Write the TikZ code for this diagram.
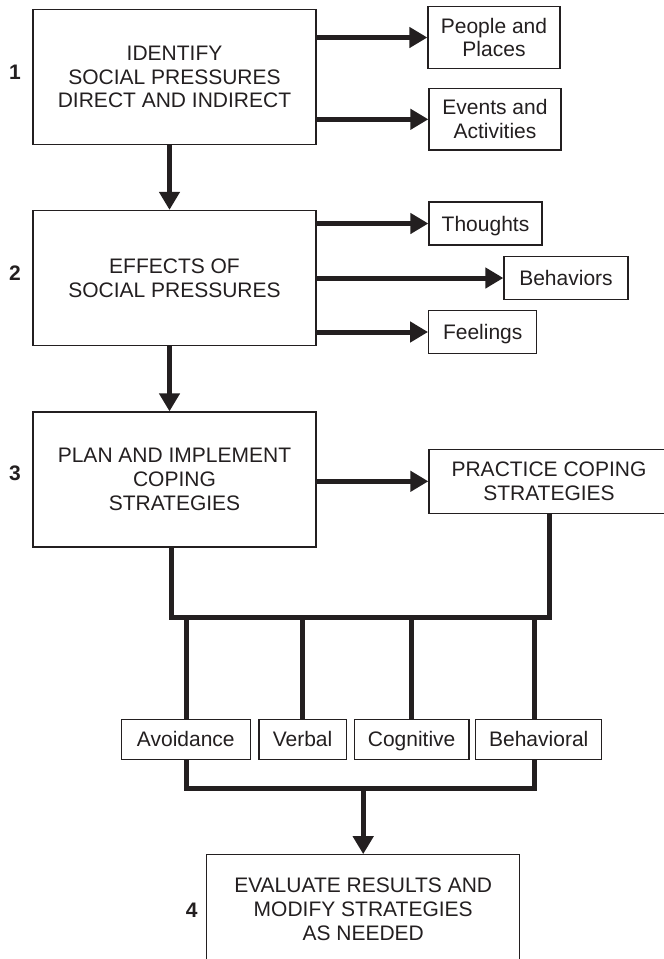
\documentclass[tikz,border=0pt]{standalone}
\usepackage{fontspec}
\setmainfont{Liberation Sans}
\usetikzlibrary{arrows.meta,calc}
\definecolor{ink}{HTML}{231F20}
\begin{document}
\begin{tikzpicture}[x=1pt,y=-1pt,
  box/.style={draw=ink, line width=1.3pt, inner sep=0pt, align=center, text=ink,
    font=\fontsize{21}{23.7}\selectfont},
  onebox/.style={box, text height=15pt, text depth=0pt},
  num/.style={text=ink, inner sep=0pt, font=\fontsize{21}{23.7}\selectfont\bfseries},
  conn/.style={draw=ink, line width=5pt, line join=miter},
  arr/.style={conn, -{Triangle[width=20pt,length=18pt]}}]
\useasboundingbox[fill=white] (0,0) rectangle (664,959);

% main boxes
\node[box, minimum width=283pt, minimum height=135pt] (b1) at (174.5,77) {IDENTIFY\\SOCIAL PRESSURES\\DIRECT AND INDIRECT};
\node[box, minimum width=283pt, minimum height=135pt] (b2) at (174.5,278) {EFFECTS OF\\SOCIAL PRESSURES};
\node[box, minimum width=283pt, minimum height=135pt] (b3) at (174.5,479.5) {PLAN AND IMPLEMENT\\COPING\\STRATEGIES};
\node[box, minimum width=313pt, minimum height=109pt] (b4) at (363.2,909.3) {EVALUATE RESULTS AND\\MODIFY STRATEGIES\\AS NEEDED};

% numbers
\node[num] (n1) at (15,72) {1};
\node[num] (n2) at (15,273.3) {2};
\node[num] (n3) at (15,473.3) {3};
\node[num] (n4) at (191.7,910.7) {4};

% side boxes
\node[box, minimum width=132pt, minimum height=61.6pt] (people) at (494,37.5) {People and\\Places};
\node[box, minimum width=132pt, minimum height=61.3pt] (events) at (495,119.3) {Events and\\Activities};
\node[onebox, minimum width=113pt, minimum height=43pt] (thoughts) at (485.5,223.5) {Thoughts};
\node[onebox, minimum width=124pt, minimum height=42.6pt] (behaviors) at (566,278) {Behaviors};
\node[onebox, minimum width=108pt, minimum height=42.6pt] (feelings) at (482.7,332) {Feelings};
\node[box, minimum width=240pt, minimum height=64pt] (practice) at (549,481.3) {PRACTICE COPING\\STRATEGIES};

% strategy boxes
\node[onebox, minimum width=129.2pt, minimum height=40pt] (avoid) at (185.8,739.3) {Avoidance};
\node[onebox, minimum width=87.3pt, minimum height=40pt] (verbal) at (302.55,739.3) {Verbal};
\node[onebox, minimum width=114.9pt, minimum height=40pt] (cogn) at (411.65,739.3) {Cognitive};
\node[onebox, minimum width=125.9pt, minimum height=40pt] (behav) at (538.75,739.3) {Behavioral};

% helper coordinates
\coordinate (d1) at (169.5,0);
\coordinate (d3) at (171.6,0);
\coordinate (bus1) at (0,617.3);
\coordinate (bus2) at (0,788.3);
\coordinate (xa) at (186.9,0);
\coordinate (xb) at (534.7,0);

% arrows to the right
\draw[arr] (b1.east |- people.west) -- (people.west);
\draw[arr] (b1.east |- events.west) -- (events.west);
\draw[arr] (b2.east |- thoughts.west) -- (thoughts.west);
\draw[arr] (b2.east |- behaviors.west) -- (behaviors.west);
\draw[arr] (b2.east |- feelings.west) -- (feelings.west);
\draw[arr] (b3.east |- practice.west) -- (practice.west);

% downward arrows
\draw[arr] (b1.south -| d1) -- (b2.north -| d1);
\draw[arr] (b2.south -| d1) -- (b3.north -| d1);

% bus from plan and practice
\draw[conn] (b3.south -| d3) -- (d3 |- bus1) -- (practice.south |- bus1) -- (practice.south);
\draw[conn] (xa |- bus1) -- (xa |- avoid.north);
\draw[conn] (verbal.north |- bus1) -- (verbal.north);
\draw[conn] (cogn.north |- bus1) -- (cogn.north);
\draw[conn] (xb |- bus1) -- (xb |- behav.north);

% bus to evaluation
\draw[conn] (xa |- avoid.south) -- (xa |- bus2) -- (xb |- bus2) -- (xb |- behav.south);
\draw[arr] (b4.north |- bus2) -- (b4.north);
\end{tikzpicture}
\end{document}
